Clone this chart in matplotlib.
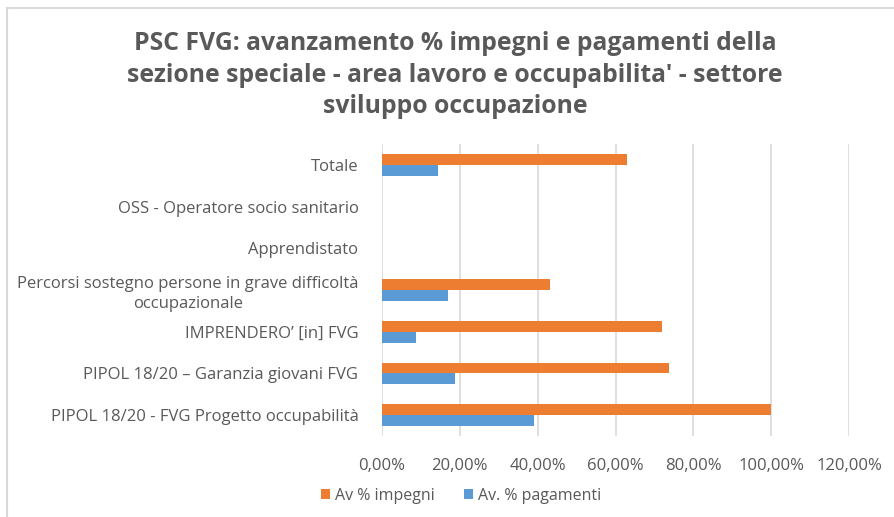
import numpy as np
import matplotlib.pyplot as plt
from matplotlib.patches import Rectangle
from matplotlib.ticker import FuncFormatter

# categorie dal basso verso l'alto
categorie = [
    'PIPOL 18/20 - FVG Progetto occupabilità',
    'PIPOL 18/20 – Garanzia giovani FVG',
    'IMPRENDERO’ [in] FVG',
    'Percorsi sostegno persone in grave difficoltà\noccupazionale',
    'Apprendistato',
    'OSS - Operatore socio sanitario',
    'Totale',
]
impegni = [100.0, 73.7, 71.9, 43.2, 0.0, 0.0, 63.0]
pagamenti = [39.0, 18.7, 8.7, 16.9, 0.0, 0.0, 14.3]
tick_valori = [0, 20, 40, 60, 80, 100, 120]

titolo = ("PSC FVG: avanzamento % impegni e pagamenti della\n"
          "sezione speciale - area lavoro e occupabilita' - settore\n"
          "sviluppo occupazione")

arancio = '#ED7D31'
blu = '#5B9BD5'
grigio = '#595959'

plt.rcParams['font.family'] = ['Open Sans', 'DejaVu Sans']

fig = plt.figure(figsize=(8.94, 5.17), dpi=100)
ax = fig.add_axes([382 / 894, 1 - 436 / 517, (849 - 382) / 894, (436 - 144) / 517])

# cornice del grafico (solo sopra e a sinistra visibili)
fig.patches.append(Rectangle((7 / 894, -0.2), 1.5, 1.2 - 8 / 517,
                             transform=fig.transFigure, fill=False,
                             edgecolor='#D9D9D9', linewidth=1.5))

y = np.arange(len(categorie))
h = 0.26
ax.barh(y + h / 2, impegni, height=h, color=arancio, label='Av % impegni')
ax.barh(y - h / 2, pagamenti, height=h, color=blu, label='Av. % pagamenti')

ax.set_xlim(0, 120)
ax.set_ylim(-0.5, len(categorie) - 0.5)
ax.set_xticks(tick_valori)
ax.xaxis.set_major_formatter(FuncFormatter(lambda v, p: f'{v:.2f}%'.replace('.', ',')))
ax.set_yticks(y)
ax.set_yticklabels(categorie, multialignment='center', linespacing=1.3)

ax.grid(axis='x', color='#D9D9D9', linewidth=1.2)
ax.set_axisbelow(True)
for s in ax.spines.values():
    s.set_visible(False)
ax.tick_params(length=0, colors=grigio, labelsize=12)
ax.tick_params(axis='x', pad=16)
ax.tick_params(axis='y', pad=17)

fig.text(455 / 894, 1 - 75 / 517, titolo, ha='center', va='center',
         fontsize=17.8, fontweight='bold', color=grigio, linespacing=1.33)

ax.legend(loc='center', bbox_to_anchor=(461 / 894, 1 - 496 / 517),
          bbox_transform=fig.transFigure, ncol=2, frameon=False,
          fontsize=11.5, labelcolor=grigio, handlelength=0.6, handleheight=0.6,
          handletextpad=0.3, columnspacing=1.8)

fig.savefig('out.png', dpi=100)
